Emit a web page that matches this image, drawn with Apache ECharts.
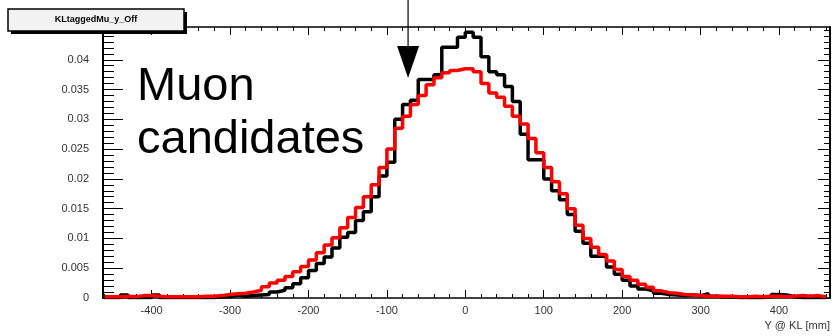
<!DOCTYPE html>
<html>
<head>
<meta charset="utf-8">
<script src="https://cdn.jsdelivr.net/npm/echarts@6/dist/echarts.min.js"></script>
</head>
<body style="margin:0;background:#fff">
<div id="main" style="width:837px;height:336px"></div>
<script>
// histogram binning (mm)
var binStart = -460;
var binWidth = 10;

// black histogram (Y @ KL, tagged muons)
var blackVals = [
  0.0001, 0.0001, 0.0005, 0.0001, 0.0001, 0.0001, 0.0005, 0.0001, 0.0001, 0.0001,
  0.0001, 0.0001, 0.0001, 0.0001, 0.0002, 0.0002, 0.0005, 0.0003, 0.0004, 0.0005,
  0.0006, 0.0010, 0.0013, 0.0017, 0.0024, 0.0034, 0.0046, 0.0058, 0.0069, 0.0084,
  0.0102, 0.0110, 0.0130, 0.0145, 0.0170, 0.0205, 0.0228, 0.0300, 0.0325, 0.0332,
  0.0367, 0.0367, 0.0375, 0.0421, 0.0421, 0.0438,
  0.0446, 0.0438, 0.0405, 0.0380, 0.0375, 0.0355, 0.0330, 0.0275, 0.0232, 0.0232,
  0.0200, 0.0180, 0.0165, 0.0140, 0.0112, 0.0092, 0.0070, 0.0072, 0.0052, 0.0040,
  0.0030, 0.0020, 0.0015, 0.0012, 0.0008, 0.0006, 0.0005, 0.0004, 0.0005, 0.0004,
  0.0007, 0.0003, 0.0002, 0.0002, 0.0001, 0.0001, 0.0001, 0.0001, 0.0002, 0.0006,
  0.0005, 0.0002, 0.0001, 0.0001, 0.0001, 0.0001
];
// red histogram
var redVals = [
  0.0002, 0.0002, 0.0003, 0.0002, 0.0004, 0.0004, 0.0003, 0.0002, 0.0002, 0.0002,
  0.0002, 0.0002, 0.0003, 0.0003, 0.0004, 0.0006, 0.0007, 0.0008, 0.0010, 0.0013,
  0.0019, 0.0025, 0.0030, 0.0036, 0.0044, 0.0053, 0.0064, 0.0076, 0.0089, 0.0101,
  0.0118, 0.0135, 0.0152, 0.0170, 0.0190, 0.0219, 0.0250, 0.0285, 0.0305, 0.0325,
  0.0340, 0.0358, 0.0370, 0.0378, 0.0382, 0.0385,
  0.0385, 0.0380, 0.0360, 0.0344, 0.0337, 0.0322, 0.0305, 0.0292, 0.0268, 0.0244,
  0.0219, 0.0195, 0.0175, 0.0150, 0.0122, 0.0100, 0.0085, 0.0073, 0.0062, 0.0048,
  0.0036, 0.0030, 0.0023, 0.0018, 0.0012, 0.0009, 0.0008, 0.0006, 0.0005, 0.0004,
  0.0003, 0.0003, 0.0003, 0.0003, 0.0002, 0.0002, 0.0003, 0.0002, 0.0003, 0.0003,
  0.0002, 0.0003, 0.0004, 0.0003, 0.0004, 0.0002
];

var xLabels = [-400, -300, -200, -100, 0, 100, 200, 300, 400];
var yLabels = [0, 0.005, 0.01, 0.015, 0.02, 0.025, 0.03, 0.035, 0.04];
var histTitle = 'KLtaggedMu_y_Off';
var xTitle = 'Y @ KL [mm]';
var noteLines = ['Muon', 'candidates'];
var arrowAt = -73;

var xMin = -462, xMax = 465, yMax = 0.0455;

function toSteps(vals) {
  var d = [];
  for (var i = 0; i < vals.length; i++) d.push([binStart + i * binWidth, vals[i]]);
  d.push([binStart + vals.length * binWidth, vals[vals.length - 1]]);
  return d;
}
function range(a, b, s) {
  var r = [];
  for (var v = a; v <= b + 1e-9; v += s) r.push(+v.toFixed(4));
  return r;
}

var xMinor = range(-460, 460, 20);
var yMinor = range(0, 0.045, 0.001);

function xAx(pos, ticks, len, labels, line) {
  return {
    type: 'value', min: xMin, max: xMax, position: pos,
    axisLine: {show: line, onZero: false, lineStyle: {color: '#000', width: 1.5}},
    axisTick: {show: true, inside: true, length: len, customValues: ticks, lineStyle: {color: '#000', width: 1}},
    axisLabel: labels ? {show: true, customValues: labels, color: '#333', fontSize: 11,
      fontFamily: 'Liberation Sans', margin: 7} : {show: false},
    splitLine: {show: false}
  };
}
function yAx(pos, ticks, len, labels, line) {
  return {
    type: 'value', min: 0, max: yMax, position: pos,
    axisLine: {show: line, onZero: false, lineStyle: {color: '#000', width: 2}},
    axisTick: {show: true, inside: true, length: len, customValues: ticks, lineStyle: {color: '#000', width: 1}},
    axisLabel: labels ? {show: true, customValues: labels, color: '#333', fontSize: 11,
      fontFamily: 'Liberation Sans', margin: 14,
      formatter: function (v) { return String(+v.toFixed(3)); }} : {show: false},
    splitLine: {show: false}
  };
}

var chart = echarts.init(document.getElementById('main'));
chart.setOption({
  animation: false,
  grid: {left: 103, right: 7, top: 27, bottom: 38},
  xAxis: [
    xAx('bottom', xLabels, 8, xLabels, true),
    xAx('bottom', xMinor, 4, null, false),
    xAx('top', xLabels, 8, null, true),
    xAx('top', xMinor, 4, null, false)
  ],
  yAxis: [
    yAx('left', yLabels, 20, yLabels, true),
    yAx('left', yMinor, 11, null, false),
    yAx('right', yLabels, 12, null, true),
    yAx('right', yMinor, 6, null, false)
  ],
  series: [
    {type: 'line', step: 'end', symbol: 'none', data: toSteps(blackVals),
      lineStyle: {color: '#000', width: 3.5}},
    {type: 'line', step: 'end', symbol: 'none', data: toSteps(redVals),
      lineStyle: {color: '#ff0000', width: 3.5}}
  ]
});

var ax = chart.convertToPixel({xAxisIndex: 0}, arrowAt);
chart.setOption({
  graphic: [
    {type: 'rect', shape: {x: 11, y: 12, width: 176, height: 22}, style: {fill: '#000'}, z: 100},
    {type: 'rect', shape: {x: 8, y: 9, width: 176, height: 22},
      style: {fill: '#f2f2f2', stroke: '#000', lineWidth: 1.5}, z: 101},
    {type: 'text', x: 96, y: 20, z: 102,
      style: {text: histTitle, font: 'bold 9px Liberation Sans', fill: '#000', align: 'center', verticalAlign: 'middle'}},
    {type: 'line', shape: {x1: ax, y1: 0, x2: ax, y2: 48}, style: {stroke: '#000', lineWidth: 1.2}, z: 100},
    {type: 'polygon', shape: {points: [[ax - 11, 46], [ax + 11, 46], [ax, 78]]}, style: {fill: '#000'}, z: 100},
    {type: 'text', x: 137, y: 87, z: 100,
      style: {text: noteLines[0], font: '47px Liberation Sans', fill: '#000', verticalAlign: 'middle'}},
    {type: 'text', x: 137, y: 140, z: 100,
      style: {text: noteLines[1], font: '47px Liberation Sans', fill: '#000', verticalAlign: 'middle'}},
    {type: 'text', x: 830, y: 326, z: 100,
      style: {text: xTitle, font: '11px Liberation Sans', fill: '#333', align: 'right', verticalAlign: 'middle'}}
  ]
});
</script>
</body>
</html>
